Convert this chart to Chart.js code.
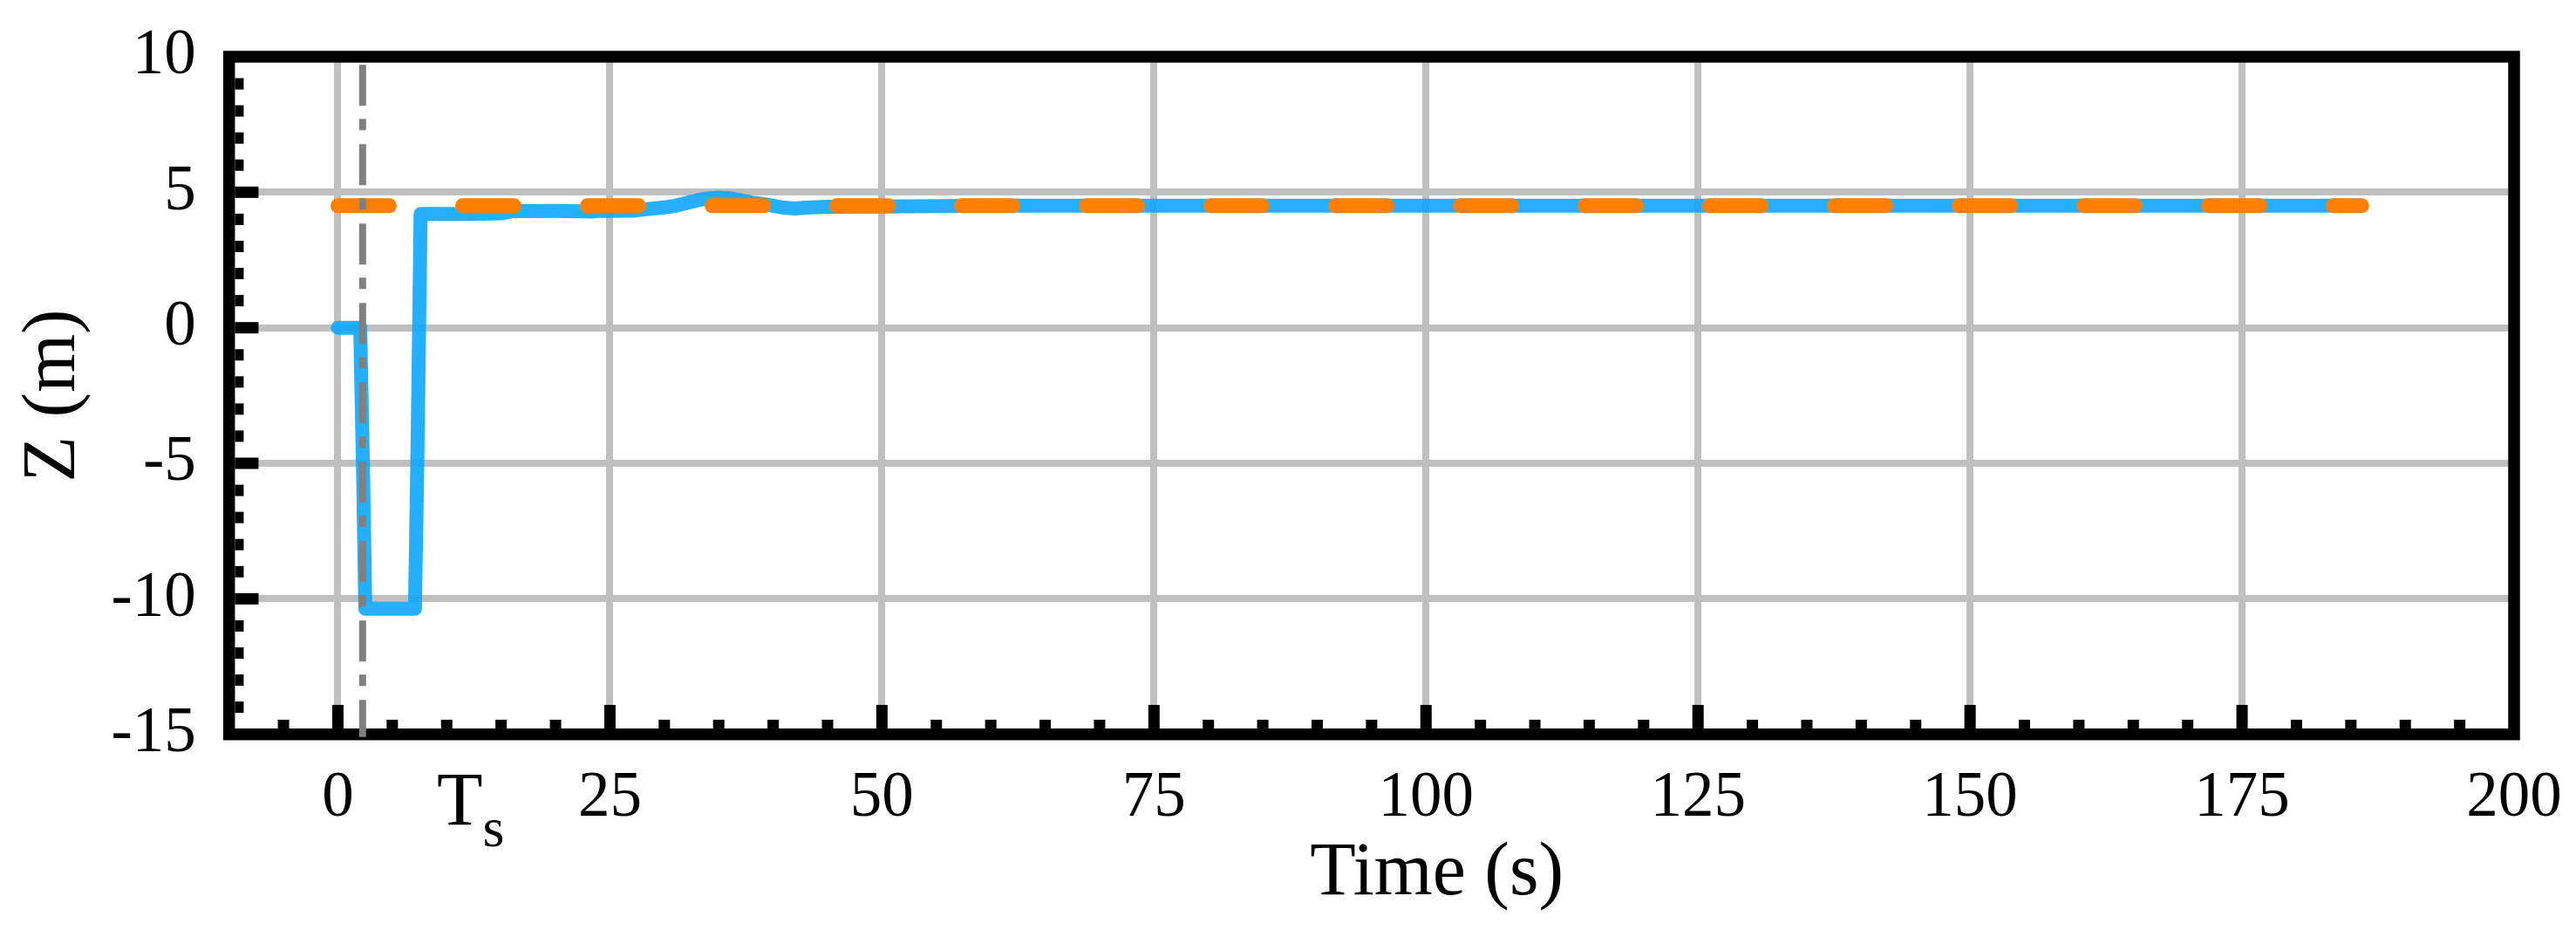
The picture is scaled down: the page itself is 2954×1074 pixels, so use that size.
<!DOCTYPE html>
<html>
<head>
<meta charset="utf-8">
<style>
  html, body { margin: 0; padding: 0; background: #ffffff; }
  #wrap { width: 2954px; height: 1074px; }
</style>
<script src="https://cdn.jsdelivr.net/npm/chart.js@4/dist/chart.umd.min.js"></script>
</head>
<body>
<div id="wrap"><canvas id="c" width="2954" height="1074"></canvas></div>
<script>
// ---- data ----
const timeMeasured = [0, 2.05, 2.3, 2.52, 7.08, 7.3, 7.6, 12, 15, 16, 20, 23.5, 24, 27, 28, 29, 30, 31, 32, 33, 34, 35, 36, 37, 38, 39, 40, 41, 42, 43, 45, 50, 60, 186];
const zMeasured    = [0, 0, -5, -10.37, -10.37, -5, 4.2, 4.2, 4.22, 4.3, 4.31, 4.29, 4.31, 4.32, 4.36, 4.4, 4.44, 4.5, 4.6, 4.7, 4.77, 4.8, 4.78, 4.7, 4.62, 4.57, 4.5, 4.43, 4.4, 4.43, 4.46, 4.47, 4.5, 4.5];
const timeReference = [0, 186];
const zReference    = [4.5, 4.5];
const tsTime = [2.27, 2.27];
const tsZ    = [9.7, -15.1];
const xTickValues = [0, 25, 50, 75, 100, 125, 150, 175, 200];
const yTickValues = [-15, -10, -5, 0, 5, 10];
const xMinorTicks = [-5, 5, 10, 15, 20, 30, 35, 40, 45, 55, 60, 65, 70, 80, 85, 90, 95, 105, 110, 115, 120, 130, 135, 140, 145, 155, 160, 165, 170, 180, 185, 190, 195];
const xMajorTicks = [0, 25, 50, 75, 100, 125, 150, 175];
const yMinorTicks = [-14, -13, -12, -11, -9, -8, -7, -6, -4, -3, -2, -1, 1, 2, 3, 4, 6, 7, 8, 9];
const yMajorTicks = [-10, -5, 0, 5];
const tsLabelTime = 12.2;
const xTitleTime = 101;

const toPts = (xs, ys) => xs.map((x, i) => ({ x: x, y: ys[i] }));
const SERIF = "'Liberation Serif', 'Times New Roman', serif";

const framePlugin = {
  id: 'frame',
  beforeDatasetsDraw(chart) {
    const { ctx, chartArea: a, scales } = chart;
    const xs = scales.x, ys = scales.y;
    const bw = 13.5;
    ctx.save();
    ctx.fillStyle = '#000';
    const innerLeft = a.left + bw / 2;
    const innerBottom = a.bottom - bw / 2;
    const th = 13;
    yMinorTicks.forEach(v => { const p = ys.getPixelForValue(v); ctx.fillRect(innerLeft, p - th / 2, 10, th); });
    yMajorTicks.forEach(v => { const p = ys.getPixelForValue(v); ctx.fillRect(innerLeft, p - th / 2, 27, th); });
    xMinorTicks.forEach(v => { const p = xs.getPixelForValue(v); ctx.fillRect(p - th / 2, innerBottom - 10, th, 10); });
    xMajorTicks.forEach(v => { const p = xs.getPixelForValue(v); ctx.fillRect(p - th / 2, innerBottom - 27, th, 27); });
    ctx.strokeStyle = '#000';
    ctx.lineWidth = bw;
    ctx.lineJoin = 'miter';
    ctx.strokeRect(a.left, a.top, a.right - a.left, a.bottom - a.top);
    ctx.restore();
  },
  afterDraw(chart) {
    const { ctx, scales } = chart;
    const xs = scales.x;
    ctx.save();
    ctx.fillStyle = '#000';
    // T_s label
    ctx.textBaseline = 'alphabetic';
    ctx.textAlign = 'left';
    ctx.font = '86px ' + SERIF;
    const wT = ctx.measureText('T').width;
    ctx.font = '64px ' + SERIF;
    const wS = ctx.measureText('s').width;
    const cx = xs.getPixelForValue(tsLabelTime);
    const startX = cx - (wT + wS) / 2;
    ctx.font = '86px ' + SERIF;
    ctx.fillText('T', startX, 945);
    ctx.font = '64px ' + SERIF;
    ctx.fillText('s', startX + wT, 970);
    // x-axis title
    ctx.font = '86px ' + SERIF;
    ctx.textAlign = 'center';
    ctx.fillText('Time (s)', xs.getPixelForValue(xTitleTime), 1025);
    ctx.restore();
  }
};

new Chart(document.getElementById('c'), {
  type: 'scatter',
  data: {
    datasets: [
      {
        label: 'Ts',
        data: toPts(tsTime, tsZ),
        showLine: true,
        borderColor: '#808080',
        borderWidth: 8,
        borderDash: [47, 15, 13, 16],
        borderCapStyle: 'butt',
        pointRadius: 0,
        clip: false,
        order: 1
      },
      {
        label: 'Reference',
        data: toPts(timeReference, zReference),
        showLine: true,
        borderColor: '#ff8000',
        borderWidth: 17,
        borderDash: [59, 84],
        borderCapStyle: 'round',
        pointRadius: 0,
        order: 2
      },
      {
        label: 'Measured',
        data: toPts(timeMeasured, zMeasured),
        showLine: true,
        borderColor: 'rgba(13,166,255,0.9)',
        borderWidth: 16,
        borderCapStyle: 'round',
        borderJoinStyle: 'round',
        tension: 0,
        pointRadius: 0,
        order: 3
      }
    ]
  },
  options: {
    responsive: false,
    animation: false,
    devicePixelRatio: 1,
    layout: { padding: { left: 0, top: 65, right: 71, bottom: 0 } },
    plugins: { legend: { display: false }, tooltip: { enabled: false } },
    scales: {
      x: {
        type: 'linear',
        min: -10,
        max: 200,
        afterBuildTicks: s => { s.ticks = xTickValues.map(v => ({ value: v })); },
        afterFit: s => { s.height = 232.3; s.paddingLeft = 0; s.paddingRight = 0; s.paddingTop = 0; s.paddingBottom = 0; },
        grid: { color: '#bfbfbf', lineWidth: 8, drawTicks: false },
        border: { display: false },
        ticks: { autoSkip: false, maxRotation: 0, padding: 30, color: '#000', font: { family: SERIF, size: 73 } }
      },
      y: {
        type: 'linear',
        min: -15,
        max: 10,
        afterBuildTicks: s => { s.ticks = yTickValues.map(v => ({ value: v })); },
        afterFit: s => { s.width = 262.7; s.paddingLeft = 0; s.paddingRight = 0; s.paddingTop = 0; s.paddingBottom = 0; },
        grid: { color: '#bfbfbf', lineWidth: 8, drawTicks: false },
        border: { display: false },
        title: { display: true, text: 'Z (m)', color: '#000', font: { family: SERIF, size: 86 }, padding: { top: 11, bottom: 0 } },
        ticks: { autoSkip: false, padding: 38, color: '#000', font: { family: SERIF, size: 73 } }
      }
    }
  },
  plugins: [framePlugin]
});
</script>
</body>
</html>
